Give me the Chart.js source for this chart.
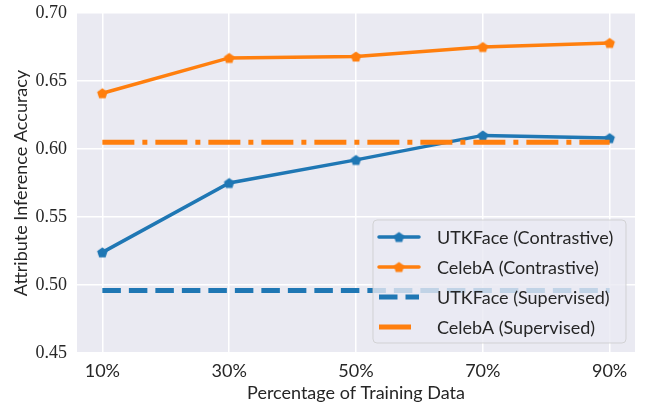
<!DOCTYPE html>
<html>
<head>
<meta charset="utf-8">
<script src="https://cdn.jsdelivr.net/npm/chart.js@4"></script>
<style>
  html, body { margin: 0; padding: 0; background: #ffffff; }
  #wrap { width: 648px; height: 407px; }
</style>
</head>
<body>
<div id="wrap"><canvas id="c" width="648" height="407"></canvas></div>
<script>
// ---- data ----
const trainingPct = [10, 30, 50, 70, 90];
const xTickValues = [10, 30, 50, 70, 90];
const yTickValues = [0.45, 0.50, 0.55, 0.60, 0.65, 0.70];
const utkContrastive = [0.524, 0.575, 0.592, 0.610, 0.608];
const celebaContrastive = [0.641, 0.667, 0.668, 0.675, 0.678];
const utkSupervised = [0.496, 0.496, 0.496, 0.496, 0.496];
const celebaSupervised = [0.605, 0.605, 0.605, 0.605, 0.605];
const seriesNames = ['UTKFace (Contrastive)', 'CelebA (Contrastive)', 'UTKFace (Supervised)', 'CelebA (Supervised)'];

const BLUE = '#1f77b4', ORANGE = '#ff7f0e';
const TEXT = '#262626';
const SANS = 'Lato, "Liberation Sans", sans-serif';
const SERIF = '"Liberation Serif", "DejaVu Serif", serif';

function pentagon(color, r) {
  const s = Math.ceil(r * 2 + 2);
  const c = document.createElement('canvas');
  c.width = s; c.height = s;
  const g = c.getContext('2d');
  g.beginPath();
  for (let i = 0; i < 5; i++) {
    const a = -Math.PI / 2 + i * 2 * Math.PI / 5;
    const px = s / 2 + r * Math.cos(a), py = s / 2 + r * Math.sin(a) + r * 0.1;
    if (i) g.lineTo(px, py); else g.moveTo(px, py);
  }
  g.closePath();
  g.fillStyle = color;
  g.fill();
  return c;
}
const pentBlue = pentagon(BLUE, 5.5);
const pentOrange = pentagon(ORANGE, 5.5);

function pts(arr) { return arr.map((v, i) => ({ x: trainingPct[i], y: v })); }

const datasets = [
  { label: seriesNames[0], data: pts(utkContrastive), borderColor: BLUE, backgroundColor: BLUE,
    borderWidth: 3.5, pointStyle: pentBlue, pointRadius: 6, order: 4, borderCapStyle: 'round' },
  { label: seriesNames[1], data: pts(celebaContrastive), borderColor: ORANGE, backgroundColor: ORANGE,
    borderWidth: 3.5, pointStyle: pentOrange, pointRadius: 6, order: 3, borderCapStyle: 'round' },
  { label: seriesNames[2], data: pts(utkSupervised), borderColor: BLUE, backgroundColor: BLUE,
    borderWidth: 5, borderDash: [18.5, 8], pointRadius: 0, order: 2, borderCapStyle: 'butt' },
  { label: seriesNames[3], data: pts(celebaSupervised), borderColor: ORANGE, backgroundColor: ORANGE,
    borderWidth: 5, borderDash: [32, 8, 5, 8], pointRadius: 0, order: 1, borderCapStyle: 'butt' }
];

const bgPlugin = {
  id: 'bg',
  beforeDraw(chart) {
    const { ctx, chartArea: a } = chart;
    ctx.save();
    ctx.fillStyle = '#EAEAF2';
    ctx.fillRect(a.left, a.top, a.right - a.left, a.bottom - a.top);
    ctx.restore();
  }
};

function roundRect(ctx, x, y, w, h, r) {
  ctx.beginPath();
  ctx.moveTo(x + r, y);
  ctx.lineTo(x + w - r, y);
  ctx.arcTo(x + w, y, x + w, y + r, r);
  ctx.lineTo(x + w, y + h - r);
  ctx.arcTo(x + w, y + h, x + w - r, y + h, r);
  ctx.lineTo(x + r, y + h);
  ctx.arcTo(x, y + h, x, y + h - r, r);
  ctx.lineTo(x, y + r);
  ctx.arcTo(x, y, x + r, y, r);
  ctx.closePath();
}

const legendPlugin = {
  id: 'customLegend',
  afterDatasetsDraw(chart) {
    const { ctx, chartArea: a } = chart;
    const w = 253, h = 123;
    const x = a.right - 9 - w, y = a.bottom - 10 - h;
    ctx.save();
    roundRect(ctx, x, y, w, h, 4);
    ctx.fillStyle = 'rgba(234,234,242,0.8)';
    ctx.fill();
    ctx.strokeStyle = 'rgba(204,204,204,0.8)';
    ctx.lineWidth = 1;
    ctx.stroke();
    chart.data.datasets.forEach((ds, i) => {
      const cy = y + 17 + i * 30;
      const x0 = x + 6, x1 = x + 46;
      ctx.beginPath();
      ctx.setLineDash(ds.borderDash || []);
      ctx.lineCap = ds.borderCapStyle || 'butt';
      ctx.strokeStyle = ds.borderColor;
      ctx.lineWidth = ds.borderWidth;
      ctx.moveTo(x0, cy);
      ctx.lineTo(x1, cy);
      ctx.stroke();
      ctx.setLineDash([]);
      if (ds.pointRadius > 0) {
        const img = ds.pointStyle;
        ctx.drawImage(img, (x0 + x1) / 2 - img.width / 2, cy - img.height / 2);
      }
      ctx.fillStyle = TEXT;
      ctx.font = '18px ' + SANS;
      ctx.textBaseline = 'middle';
      ctx.textAlign = 'left';
      ctx.fillText(ds.label, x + 64, cy + 1);
    });
    ctx.restore();
  }
};

function zeroPad(scale) {
  scale.paddingTop = 0; scale.paddingBottom = 0;
  scale.paddingLeft = 0; scale.paddingRight = 0;
}

new Chart(document.getElementById('c'), {
  type: 'line',
  data: { datasets },
  plugins: [bgPlugin, legendPlugin],
  options: {
    responsive: false,
    animation: false,
    layout: { padding: { top: 13, right: 13, left: 0, bottom: 0 } },
    plugins: { legend: { display: false }, tooltip: { enabled: false } },
    scales: {
      x: {
        type: 'linear',
        min: 6, max: 94,
        afterBuildTicks(scale) { scale.ticks = xTickValues.map(v => ({ value: v })); },
        afterFit(scale) { scale.height = 54; zeroPad(scale); },
        grid: { color: '#ffffff', lineWidth: 1.5, drawTicks: false },
        border: { display: false },
        ticks: {
          padding: 7, color: TEXT, font: { family: SANS, size: 18 },
          callback: v => v + '%'
        },
        title: { display: true, text: 'Percentage of Training Data', color: TEXT,
          font: { family: SANS, size: 18 }, padding: { top: 0, bottom: 3 } }
      },
      y: {
        min: 0.45, max: 0.70,
        afterBuildTicks(scale) { scale.ticks = yTickValues.map(v => ({ value: v })); },
        afterFit(scale) { scale.width = 77; zeroPad(scale); },
        grid: { color: '#ffffff', lineWidth: 1.5, drawTicks: false },
        border: { display: false },
        ticks: {
          padding: 10, color: TEXT, font: { family: SERIF, size: 18 },
          callback: v => Number(v).toFixed(2)
        },
        title: { display: true, text: 'Attribute Inference Accuracy', color: TEXT,
          font: { family: SANS, size: 18 }, padding: { top: 10, bottom: 0 } }
      }
    }
  }
});
</script>
</body>
</html>
